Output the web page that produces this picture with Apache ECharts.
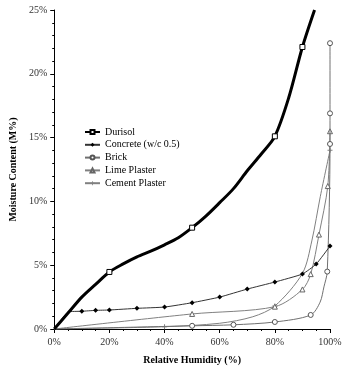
<!DOCTYPE html>
<html>
<head>
<meta charset="utf-8">
<script src="https://cdn.jsdelivr.net/npm/echarts@6/dist/echarts.min.js"></script>
<style>html,body{margin:0;padding:0;background:#fff;}#c{width:350px;height:377px;}</style>
</head>
<body>
<div id="c"></div>
<script>
// Relative humidity (%) and moisture content (M%) readings
const durisolRH = [0, 5, 10, 15, 20, 25, 30, 35, 40, 45, 50, 55, 60, 65, 70, 75, 80, 85, 90, 94.4];
const durisolMC = [0, 1.25, 2.5, 3.5, 4.47, 5.1, 5.65, 6.1, 6.6, 7.15, 7.94, 8.85, 9.9, 11.0, 12.4, 13.7, 15.1, 18.1, 22.1, 25];
const durisolMarked = [20, 50, 80, 90];

const concreteRH = [0, 5, 10, 15, 20, 30, 40, 50, 60, 70, 80, 90, 95, 100];
const concreteMC = [0, 1.33, 1.39, 1.46, 1.49, 1.62, 1.72, 2.06, 2.5, 3.13, 3.68, 4.31, 5.09, 6.5];
const concreteMarked = [10, 15, 20, 30, 40, 50, 60, 70, 80, 90, 95, 100];

const brickRH = [0, 50, 65, 80, 93, 96.4, 97.8, 99, 100, 100, 100];
const brickMC = [0, 0.25, 0.33, 0.55, 1.1, 2.1, 3.3, 4.5, 14.5, 16.9, 22.4];
const brickMarked = [1, 2, 3, 4, 7, 8, 9, 10]; // indices

const limeRH = [0, 50, 80, 90, 93, 96, 99.2, 100];
const limeMC = [0, 1.18, 1.75, 3.1, 4.3, 7.4, 11.2, 15.5];
const limeMarked = [1, 2, 3, 4, 5, 6, 7];

const cementRH = [0, 40, 60, 72, 80, 90, 93.4, 96.5, 100];
const cementMC = [0, 0.18, 0.45, 0.96, 1.8, 4.36, 6.9, 10.4, 14.0];
const cementMarked = [1, 4, 8];

const seriesNames = ['Durisol', 'Concrete (w/c 0.5)', 'Brick', 'Lime Plaster', 'Cement Plaster'];

function build(xs, ys, markedIdx) {
  return xs.map((x, i) => {
    const item = { value: [x, ys[i]] };
    if (!markedIdx.includes(i)) item.symbol = 'none';
    return item;
  });
}
function idxOf(xs, vals) { return xs.map((x, i) => vals.includes(x) ? i : -1).filter(i => i >= 0); }

const serif = 'Liberation Serif';
const plusPath = 'path://M4,0h2v4h4v2h-4v4h-2v-4h-4v-2h4z';

const chart = echarts.init(document.getElementById('c'), null, { renderer: 'canvas' });
chart.setOption({
  animation: false,
  backgroundColor: '#fff',
  grid: { left: 52, right: 20, top: 10, bottom: 48, containLabel: false },
  legend: {
    orient: 'vertical', left: 84, top: 127, padding: 0,
    itemWidth: 15, itemHeight: 5, itemGap: 2.8,
    textStyle: { fontFamily: serif, fontSize: 10, color: '#000' },
    data: seriesNames
  },
  xAxis: {
    type: 'value', min: 0, max: 100, interval: 20,
    name: 'Relative Humidity (%)', nameLocation: 'middle', nameGap: 26,
    nameTextStyle: { fontFamily: serif, fontSize: 10, fontWeight: 'bold', color: '#000' },
    axisLine: { show: true, lineStyle: { color: '#000', width: 1 } },
    axisTick: { show: true, length: 4, lineStyle: { color: '#000' } },
    minorTick: { show: true, splitNumber: 4, length: 2, lineStyle: { color: '#000' } },
    splitLine: { show: false },
    axisLabel: { formatter: '{value}%', fontFamily: serif, fontSize: 10, color: '#333', margin: 8 }
  },
  yAxis: {
    type: 'value', min: 0, max: 25, interval: 5,
    name: 'Moisture Content (M%)', nameLocation: 'middle', nameGap: 30,
    nameTextStyle: { fontFamily: serif, fontSize: 10, fontWeight: 'bold', color: '#000' },
    axisLine: { show: true, lineStyle: { color: '#000', width: 1 } },
    axisTick: { show: true, length: 4, lineStyle: { color: '#000' } },
    minorTick: { show: true, splitNumber: 5, length: 2, lineStyle: { color: '#000' } },
    splitLine: { show: false },
    axisLabel: { formatter: '{value}%', fontFamily: serif, fontSize: 10, color: '#333', margin: 7 }
  },
  series: [
    {
      name: 'Cement Plaster', type: 'line', smooth: 0.3, z: 2,
      symbol: plusPath, symbolSize: 5,
      lineStyle: { color: '#808080', width: 1 },
      itemStyle: { color: '#808080' },
      data: build(cementRH, cementMC, cementMarked)
    },
    {
      name: 'Lime Plaster', type: 'line', smooth: 0.3, z: 3,
      symbol: 'triangle', symbolSize: 5,
      lineStyle: { color: '#808080', width: 1 },
      itemStyle: { color: '#fff', borderColor: '#666', borderWidth: 1 },
      data: build(limeRH, limeMC, limeMarked)
    },
    {
      name: 'Brick', type: 'line', smooth: 0.3, z: 4,
      symbol: 'circle', symbolSize: 5,
      lineStyle: { color: '#707070', width: 1 },
      itemStyle: { color: '#fff', borderColor: '#555', borderWidth: 1 },
      data: build(brickRH, brickMC, brickMarked)
    },
    {
      name: 'Concrete (w/c 0.5)', type: 'line', smooth: 0.15, z: 5,
      symbol: 'diamond', symbolSize: 5,
      lineStyle: { color: '#333', width: 1 },
      itemStyle: { color: '#000' },
      data: build(concreteRH, concreteMC, idxOf(concreteRH, concreteMarked))
    },
    {
      name: 'Durisol', type: 'line', smooth: 0.3, z: 6,
      symbol: 'rect', symbolSize: 5,
      lineStyle: { color: '#000', width: 3 },
      itemStyle: { color: '#fff', borderColor: '#000', borderWidth: 1 },
      data: build(durisolRH, durisolMC, idxOf(durisolRH, durisolMarked))
    }
  ]
});
</script>
</body>
</html>
